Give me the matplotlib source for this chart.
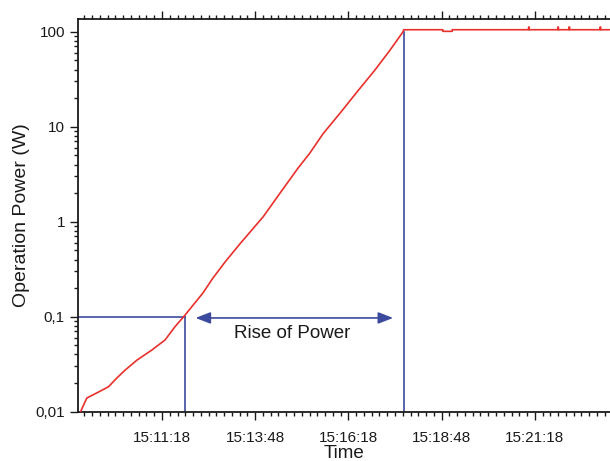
import matplotlib
matplotlib.use("Agg")
import matplotlib.pyplot as plt
from matplotlib.ticker import FixedLocator, LogLocator, NullFormatter, FuncFormatter

plt.rcParams['font.family'] = ['Liberation Sans', 'DejaVu Sans']

def sec(s):
    h, m, x = [int(v) for v in s.split(":")]
    return h * 3600 + m * 60 + x

# ---- data ----
times = ["15:09:07", "15:09:17", "15:09:35", "15:09:52", "15:10:05", "15:10:19",
         "15:10:38", "15:11:02", "15:11:23", "15:11:39", "15:11:53", "15:12:24",
         "15:12:40", "15:13:00", "15:13:24", "15:14:01", "15:14:28", "15:14:57",
         "15:15:16", "15:15:37", "15:16:05", "15:16:32", "15:17:00", "15:17:25",
         "15:17:46", "15:17:47",
         "15:18:50", "15:18:50", "15:19:05", "15:19:05",
         "15:21:08", "15:21:08", "15:21:09", "15:21:09",
         "15:21:55", "15:21:55", "15:21:56", "15:21:56",
         "15:22:13", "15:22:13", "15:22:14", "15:22:14",
         "15:23:03", "15:23:03", "15:23:04", "15:23:04",
         "15:23:19"]
power = [0.010, 0.0139, 0.0160, 0.0183, 0.0225, 0.0275,
         0.035, 0.0447, 0.0569, 0.0785, 0.100, 0.178,
         0.255, 0.380, 0.590, 1.13, 2.0, 3.67,
         5.28, 8.4, 14.0, 23.3, 39.0, 64.0,
         100, 105,
         105, 101, 101, 105,
         105, 112, 112, 105,
         105, 112, 112, 105,
         105, 112, 112, 105,
         105, 112, 112, 105,
         105]

x_start, x_end = "15:09:03", "15:23:19"
major_ticks = ["15:11:18", "15:13:48", "15:16:18", "15:18:48", "15:21:18"]
y_ticks = [0.01, 0.1, 1, 10, 100]
y_labels = ["0,01", "0,1", "1", "10", "100"]

level_low = 0.1
t_cross = "15:11:55"
t_top = "15:17:47"
arrow_from, arrow_to = "15:12:12", "15:17:30"
arrow_y = 0.097
text_t, text_y = "15:14:48", 0.067

red = "#e8302c"
blue = "#3b4a9c"

fig = plt.figure(figsize=(6.10, 4.61), dpi=100)
ax = fig.add_axes([0.128, 0.107, 0.872, 0.851])

ax.plot([sec(t) for t in times], power, color=red, lw=1.2, zorder=3)

# reference lines
ax.plot([sec(x_start), sec(t_cross)], [level_low, level_low], color=blue, lw=1.2, zorder=2)
ax.plot([sec(t_cross), sec(t_cross)], [level_low, 0.01], color=blue, lw=1.2, zorder=2)
ax.plot([sec(t_top), sec(t_top)], [100, 0.01], color=blue, lw=1.2, zorder=2)

ax.annotate("", xy=(sec(arrow_from), arrow_y), xytext=(sec(arrow_to), arrow_y),
            arrowprops=dict(arrowstyle="<|-|>,head_length=0.9,head_width=0.35",
                            color=blue, lw=1.2, shrinkA=0, shrinkB=0))
ax.text(sec(text_t), text_y, "Rise of Power", ha="center", va="center",
        fontsize=13.5, color="#1a1a1a")

ax.set_yscale("log")
ax.set_ylim(0.01, 135)
ax.set_xlim(sec(x_start), sec(x_end))

ax.set_yticks(y_ticks)
ax.set_yticklabels(y_labels)
ax.yaxis.set_minor_locator(LogLocator(base=10, subs=range(2, 10)))
ax.yaxis.set_minor_formatter(NullFormatter())

maj = [sec(t) for t in major_ticks]
ax.xaxis.set_major_locator(FixedLocator(maj))
ax.xaxis.set_major_formatter(FuncFormatter(
    lambda v, p: "%02d:%02d:%02d" % (int(v) // 3600, (int(v) % 3600) // 60, int(v) % 60)))
minor = []
step = 12.5
v = maj[0]
while v > sec(x_start):
    v -= step
m = v
while m <= sec(x_end):
    minor.append(m)
    m += step
ax.xaxis.set_minor_locator(FixedLocator(minor))

for s in ["left", "bottom", "top"]:
    ax.spines[s].set_linewidth(1.3)
    ax.spines[s].set_color("#1a1a1a")
ax.spines["right"].set_visible(False)

ax.tick_params(which="major", direction="out", length=6, width=1.0, labelsize=11,
               colors="#1a1a1a", top=True, labeltop=False)
ax.tick_params(which="minor", direction="out", length=3.2, width=1.0,
               colors="#1a1a1a", top=True)
ax.tick_params(axis="y", which="both", right=False)
ax.tick_params(axis="x", pad=8)

ax.set_xlabel("Time", fontsize=13.5, color="#1a1a1a", labelpad=0)
ax.set_ylabel("Operation Power (W)", fontsize=14, color="#1a1a1a", labelpad=4)

fig.savefig("out.png", dpi=100)
